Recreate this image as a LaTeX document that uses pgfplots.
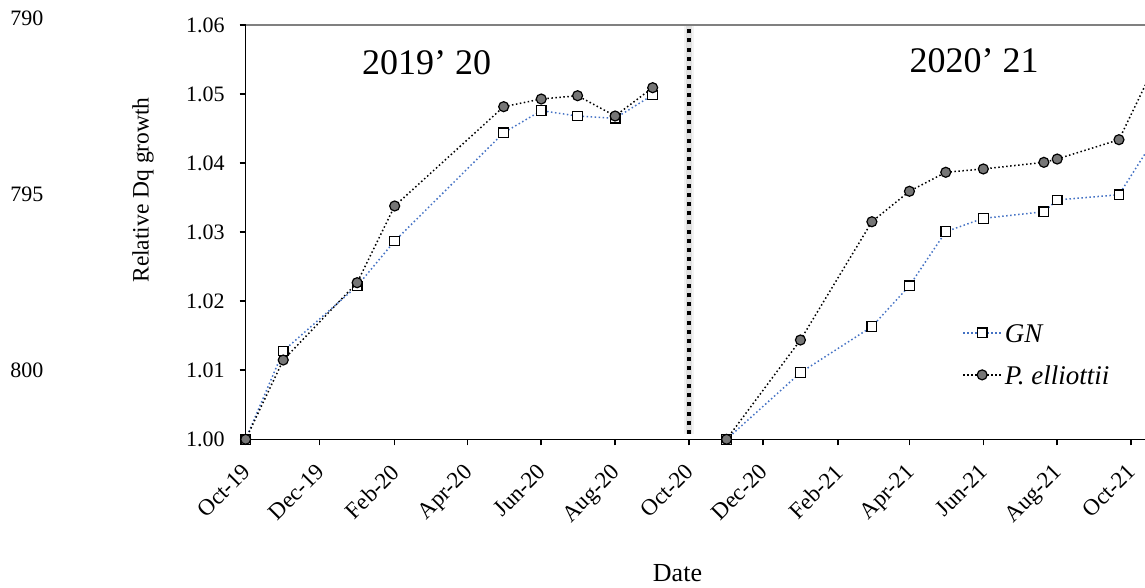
\documentclass[border=0pt]{standalone}
\usepackage{fontspec}
\setmainfont{Liberation Serif}
\usepackage{pgfplots}
\pgfplotsset{compat=1.18}
\definecolor{gnblue}{RGB}{68,114,196}
\definecolor{pefill}{RGB}{118,118,118}
\definecolor{topgray}{RGB}{128,128,128}

\begin{document}
\begin{tikzpicture}
\useasboundingbox (0,0) rectangle (572.5bp,294bp);
% manuscript line numbers
\begin{scope}[every node/.style={anchor=base west, inner sep=0pt, font=\fontsize{11bp}{13bp}\selectfont}]
  \node at (5bp,281bp) {790};
  \node at (5bp,193.15bp) {795};
  \node at (5bp,105bp) {800};
\end{scope}

\begin{axis}[
  name=ax,
  at={(122.85bp,74.35bp)}, anchor=south west,
  scale only axis, width=449.65bp, height=207.15bp,
  xmin=0, xmax=742.5, ymin=1.00, ymax=1.06,
  axis lines*=left,
  axis line style={-, black, line width=0.75bp},
  tick align=outside, major tick length=3bp,
  tick style={black, line width=0.75bp},
  xtick={0,61,123,183,244,305,366,427,489,548,609,670,731},
  xticklabels={Oct-19,Dec-19,Feb-20,Apr-20,Jun-20,Aug-20,Oct-20,Dec-20,Feb-21,Apr-21,Jun-21,Aug-21,Oct-21},
  ytick={1.00,1.01,1.02,1.03,1.04,1.05,1.06},
  /pgf/number format/assume math mode=true,
  ticklabel style={font=\fontsize{11bp}{13bp}\selectfont},
  yticklabel style={/pgf/number format/fixed, /pgf/number format/fixed zerofill, /pgf/number format/precision=2, xshift=-4bp},
  xticklabel style={xshift=-2.5bp, yshift=-7bp, rotate=45, anchor=north east, inner sep=1bp,
    font=\fontsize{11.5bp}{13bp}\selectfont},
  unbounded coords=jump,
  clip mode=individual,
  legend style={at={(0.7965,0.288)}, anchor=north west, draw=none, fill=none,
    inner sep=0pt, row sep=8.5bp,
    font=\fontsize{13.5bp}{15bp}\selectfont\itshape,
    nodes={inner sep=1.5bp, text height=9.5bp, text depth=0pt}},
  legend cell align=left,
  legend image code/.code={
    \draw[#1, mark repeat=2, mark phase=2] plot coordinates {(0bp,0bp) (9.5bp,0bp) (19bp,0bp)};
  },
]
% season divider
\draw[black!5, line width=5bp] (axis cs:366,1.0008) -- (axis cs:366,1.0598);
\draw[black!12, line width=3bp] (axis cs:366,1.0008) -- (axis cs:366,1.0598);
\draw[black, line width=2bp, dash pattern=on 2bp off 2.55bp] (axis cs:366,1.0008) -- (axis cs:366,1.0598);

% GN
\addplot[gnblue, line width=0.75bp, dash pattern=on 0.75bp off 1.25bp,
  mark=square*, mark size=2.4bp,
  mark options={solid, draw=black, fill=white, line width=0.6bp}]
  coordinates {
  (0,1.0000) (31,1.01279) (92,1.0222) (123,1.02872) (213,1.0444)
  (244,1.04759) (274,1.04682) (305,1.04649) (336,1.04986)
  (366,nan)
  (397,1.0000) (458,1.00965) (517,1.01631) (548,1.02224) (578,1.03007)
  (609,1.0320) (659,1.03296) (670,1.03466) (721,1.03542) (751,1.04369)
  };
% P. elliottii
\addplot[black, line width=0.75bp, dash pattern=on 0.75bp off 1.25bp,
  mark=*, mark size=2.5bp,
  mark options={solid, draw=black, fill=pefill, line width=0.6bp}]
  coordinates {
  (0,1.0000) (31,1.01148) (92,1.02268) (123,1.03379) (213,1.04817)
  (244,1.04928) (274,1.04976) (305,1.04682) (336,1.05092)
  (366,nan)
  (397,1.0000) (458,1.01438) (517,1.03151) (548,1.03592) (578,1.03867)
  (609,1.03915) (659,1.04011) (670,1.04059) (721,1.04339) (751,1.0543)
  };
\legend{GN, P. elliottii}
\end{axis}

% top frame line
\draw[topgray, line width=0.75bp] (ax.north west) -- (ax.north east);

% season labels
\node[anchor=base, inner sep=0pt, font=\fontsize{18bp}{20bp}\selectfont] at (213.35bp,256.5bp) {2019’ 20};
\node[anchor=base, inner sep=0pt, font=\fontsize{18bp}{20bp}\selectfont] at (487bp,257.65bp) {2020’ 21};

% axis titles
\node[rotate=90, inner sep=0pt, font=\fontsize{11.75bp}{13bp}\selectfont] at (71.5bp,199bp) {Relative Dq growth};
\node[anchor=base, inner sep=0pt, font=\fontsize{13bp}{15bp}\selectfont] at (338.75bp,3.5bp) {Date};
\end{tikzpicture}
\end{document}
